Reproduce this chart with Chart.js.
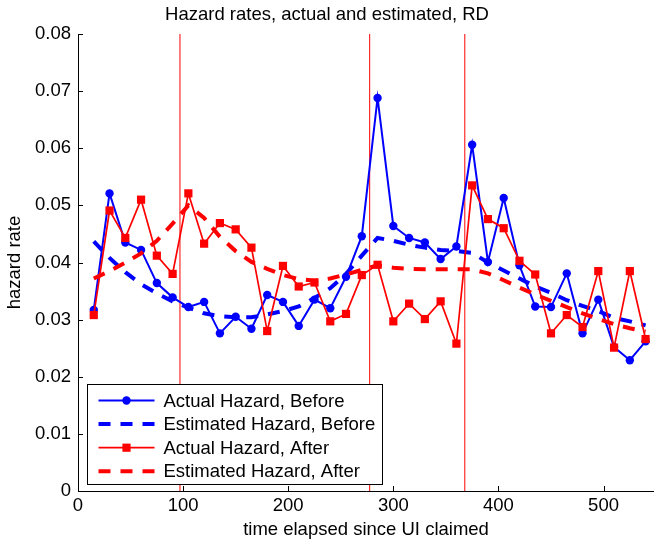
<!DOCTYPE html>
<html>
<head>
<meta charset="utf-8">
<title>Hazard rates, actual and estimated, RD</title>
<script src="https://cdn.jsdelivr.net/npm/chart.js@4.4.1/dist/chart.umd.min.js"></script>
<style>
  html, body { margin: 0; padding: 0; background: #fff; }
  #chart { display: block; }
</style>
</head>
<body>
<canvas id="chart" width="654" height="542"></canvas>
<script>
// values
const timeElapsed = [15, 30, 45, 60, 75, 90, 105, 120, 135, 150, 165, 180,
  195, 210, 225, 240, 255, 270, 285, 300, 315, 330, 345, 360,
  375, 390, 405, 420, 435, 450, 465, 480, 495, 510, 525, 540];

const actualBefore = [0.0317, 0.0521, 0.0435, 0.0422, 0.0364, 0.0339, 0.0322, 0.0331, 0.0276, 0.0305, 0.0284, 0.0343,
  0.0331, 0.0289, 0.0335, 0.0320, 0.0375, 0.0446, 0.0688, 0.0464, 0.0443, 0.0435, 0.0406, 0.0428,
  0.0606, 0.0401, 0.0513, 0.0395, 0.0323, 0.0322, 0.0381, 0.0276, 0.0335, 0.0252, 0.0229, 0.0262];

const estimatedBefore = [0.0437, 0.0408, 0.0383, 0.0362, 0.0346, 0.0332, 0.0321, 0.0311, 0.0306, 0.0304, 0.0304, 0.0309,
  0.0315, 0.0323, 0.0338, 0.0355, 0.0380, 0.0412, 0.0443, 0.0438, 0.0431, 0.0426, 0.0422, 0.0420,
  0.0417, 0.0400, 0.0386, 0.0372, 0.0358, 0.0347, 0.0334, 0.0324, 0.0315, 0.0303, 0.0297, 0.0290];

const actualAfter = [0.0308, 0.0491, 0.0443, 0.0510, 0.0412, 0.0380, 0.0521, 0.0433, 0.0469, 0.0458, 0.0426, 0.0280,
  0.0394, 0.0358, 0.0365, 0.0297, 0.0310, 0.0378, 0.0396, 0.0297, 0.0328, 0.0301, 0.0332, 0.0258,
  0.0535, 0.0476, 0.0460, 0.0403, 0.0379, 0.0276, 0.0308, 0.0287, 0.0385, 0.0251, 0.0385, 0.0266];

const estimatedAfter = [0.0372, 0.0385, 0.0400, 0.0416, 0.0438, 0.0468, 0.0500, 0.0478, 0.0445, 0.0420, 0.0401, 0.0389,
  0.0378, 0.0371, 0.0368, 0.0372, 0.0379, 0.0387, 0.0395, 0.0391, 0.0389, 0.0388, 0.0388, 0.0388,
  0.0388, 0.0381, 0.0369, 0.0356, 0.0344, 0.0333, 0.0322, 0.0311, 0.0301, 0.0292, 0.0285, 0.0279];

// vertical reference lines
const markerLines = [97, 277.5, 368];

const xTicks = [0, 100, 200, 300, 400, 500];
const yTicks = [0, 0.01, 0.02, 0.03, 0.04, 0.05, 0.06, 0.07, 0.08];

const FONT_SIZE = 18.5;
Chart.defaults.font.family = "'Liberation Sans', Arial, Helvetica, sans-serif";
Chart.defaults.font.size = FONT_SIZE;
Chart.defaults.color = '#000';

function points(values) {
  return timeElapsed.map((t, i) => ({ x: t, y: values[i] }));
}

// matlab style tick marks pointing into the axes
const insideTicks = {
  id: 'insideTicks',
  afterDraw(chart) {
    const { ctx, chartArea: a, scales: { x, y } } = chart;
    ctx.save();
    ctx.strokeStyle = '#000';
    ctx.lineWidth = 1;
    ctx.beginPath();
    x.ticks.forEach(t => {
      const px = Math.round(x.getPixelForValue(t.value)) + 0.5;
      ctx.moveTo(px, a.bottom);
      ctx.lineTo(px, a.bottom - 5);
    });
    y.ticks.forEach(t => {
      const py = Math.round(y.getPixelForValue(t.value)) + 0.5;
      ctx.moveTo(a.left, py);
      ctx.lineTo(a.left + 5, py);
    });
    ctx.stroke();
    ctx.restore();
  }
};

// boxed legend in the lower left corner
const boxLegend = {
  id: 'boxLegend',
  afterDraw(chart) {
    const { ctx, chartArea: a } = chart;
    const items = chart.data.datasets.filter(d => d.label);
    const bx = a.left + 9.5, by = a.bottom - 106.5, bw = 295, bh = 100;

    ctx.save();
    ctx.fillStyle = '#fff';
    ctx.fillRect(bx, by, bw, bh);
    ctx.strokeStyle = '#000';
    ctx.lineWidth = 1;
    ctx.strokeRect(bx, by, bw, bh);

    items.forEach((d, i) => {
      const cy = by + 16 + i * 23.6;
      ctx.beginPath();
      ctx.strokeStyle = d.borderColor;
      ctx.lineWidth = d.borderWidth;
      ctx.setLineDash(d.borderDash || []);
      ctx.moveTo(bx + 11, cy);
      ctx.lineTo(bx + 67, cy);
      ctx.stroke();
      ctx.setLineDash([]);
      if (d.pointRadius > 0) {
        ctx.fillStyle = d.backgroundColor;
        Chart.helpers.drawPoint(ctx, {
          pointStyle: d.pointStyle, radius: d.pointRadius, rotation: 0, borderWidth: 0
        }, bx + 39, cy);
      }
      ctx.fillStyle = '#000';
      ctx.font = FONT_SIZE + "px 'Liberation Sans', Arial, sans-serif";
      ctx.textBaseline = 'middle';
      ctx.fillText(d.label, bx + 76, cy + 1);
    });
    ctx.restore();
  }
};

const datasets = [
  {
    label: 'Actual Hazard, Before',
    data: points(actualBefore),
    borderColor: '#0000ff',
    backgroundColor: '#0000ff',
    borderWidth: 2,
    pointStyle: 'circle',
    pointRadius: 4.2,
    pointBorderWidth: 0,
    order: 4
  },
  {
    label: 'Estimated Hazard, Before',
    data: points(estimatedBefore),
    borderColor: '#0000ff',
    backgroundColor: '#0000ff',
    borderWidth: 4,
    borderDash: [12, 10],
    pointRadius: 0,
    order: 3
  },
  {
    label: 'Actual Hazard, After',
    data: points(actualAfter),
    borderColor: '#ff0000',
    backgroundColor: '#ff0000',
    borderWidth: 1.7,
    pointStyle: 'rect',
    pointRadius: 5.8,
    pointBorderWidth: 0,
    order: 2
  },
  {
    label: 'Estimated Hazard, After',
    data: points(estimatedAfter),
    borderColor: '#ff0000',
    backgroundColor: '#ff0000',
    borderWidth: 4,
    borderDash: [12, 10],
    pointRadius: 0,
    order: 1
  }
];

markerLines.forEach(v => {
  datasets.push({
    data: [{ x: v, y: yTicks[0] }, { x: v, y: yTicks[yTicks.length - 1] }],
    borderColor: '#ff0000',
    borderWidth: 1,
    pointRadius: 0,
    order: 5
  });
});

new Chart(document.getElementById('chart'), {
  type: 'line',
  data: { datasets: datasets },
  options: {
    responsive: false,
    animation: false,
    devicePixelRatio: 1,
    layout: { padding: 0, autoPadding: false },
    plugins: {
      legend: { display: false },
      tooltip: { enabled: false },
      title: {
        display: true,
        text: 'Hazard rates, actual and estimated, RD',
        font: { size: FONT_SIZE, weight: 'normal' },
        color: '#000',
        padding: { top: 4, bottom: 7.8 }
      }
    },
    scales: {
      x: {
        type: 'linear',
        min: 0,
        max: 548,
        afterBuildTicks: s => { s.ticks = xTicks.map(v => ({ value: v })); },
        afterFit: s => { s.height = 51; },
        ticks: { padding: 4, maxRotation: 0, autoSkip: false },
        grid: { display: false, drawTicks: false },
        border: { display: true, color: '#000', width: 1 },
        title: {
          display: true,
          text: 'time elapsed since UI claimed',
          padding: { top: 0, bottom: 1 }
        }
      },
      y: {
        type: 'linear',
        min: 0,
        max: 0.08,
        afterBuildTicks: s => { s.ticks = yTicks.map(v => ({ value: v })); },
        afterFit: s => { s.width = 78; },
        ticks: {
          padding: 7,
          callback: v => v === 0 ? '0' : v.toFixed(2)
        },
        grid: { display: false, drawTicks: false },
        border: { display: true, color: '#000', width: 1 },
        title: {
          display: true,
          text: 'hazard rate',
          padding: { top: 4, bottom: 0 }
        }
      }
    }
  },
  plugins: [insideTicks, boxLegend]
});
</script>
</body>
</html>
